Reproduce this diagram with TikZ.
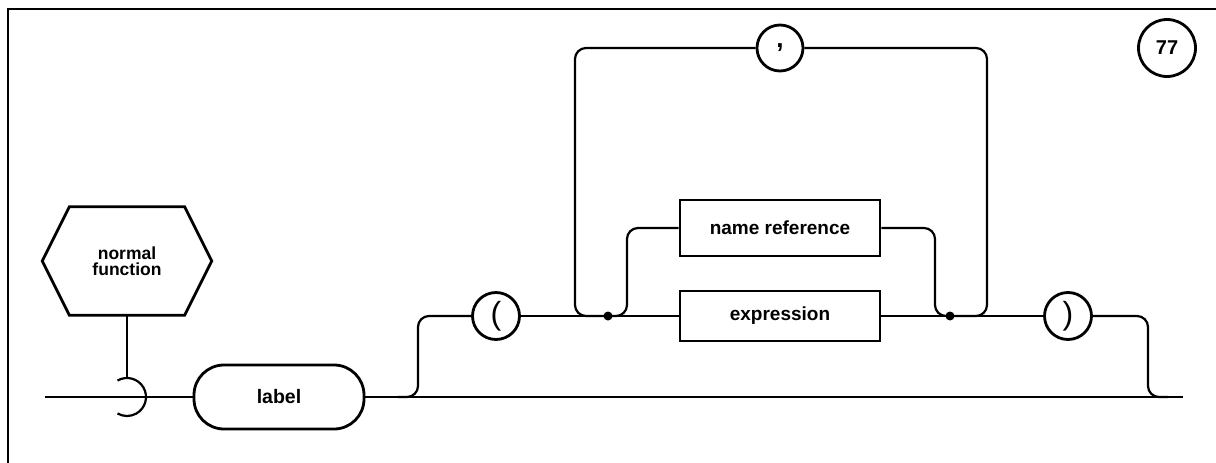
\documentclass[tikz,border=0pt]{standalone}
\usepackage{fontspec}
\setmainfont{Liberation Sans}
\begin{document}
\begin{tikzpicture}[x=1pt,y=-1pt,
  conn/.style={line width=2.2pt, rounded corners=11pt},
  boxstyle/.style={draw, line width=2.8pt, rectangle, minimum width=200pt, inner sep=0pt, font=\fontsize{19}{20}\selectfont\bfseries},
  termstyle/.style={draw, line width=2.8pt, circle, minimum size=47pt, inner sep=0pt, font=\fontsize{32}{34}\selectfont},
  dotstyle/.style={fill, circle, minimum size=9pt, inner sep=0pt}]
\useasboundingbox (0,0) rectangle (1216,463);
% frame
\draw[line width=2.2pt] (8,463) -- (8,9) -- (1216,9);
% hexagon
\node[minimum width=169pt, minimum height=108pt, inner sep=0pt, align=center,
      font=\fontsize{17.5}{16}\selectfont\bfseries] (hex) at (127,261) {normal\\function};
\draw[line width=2.8pt, line join=miter] (hex.west) -- ([xshift=27pt]hex.north west) -- ([xshift=-27pt]hex.north east)
  -- (hex.east) -- ([xshift=-27pt]hex.south east) -- ([xshift=27pt]hex.south west) -- cycle;
% label
\node[draw, line width=2.8pt, rectangle, rounded corners=30pt, minimum width=170pt, minimum height=64pt,
      font=\fontsize{19.5}{20}\selectfont\bfseries] (lab) at (279,397) {label};
% boxes
\node[boxstyle, minimum height=56pt] (nr) at (780,228) {name reference};
\node[boxstyle, minimum height=50pt] (ex) at (780,316) {expression};
% terminals
\node[termstyle] (lp) at (496,316) {(};
\node[termstyle, minimum size=46pt, font=\fontsize{26}{28}\selectfont\bfseries] (cm) at (780,48) {,};
\node[termstyle] (rp) at (1068,316) {)};
\node[draw, line width=2.8pt, circle, minimum size=57pt, inner sep=0pt,
      font=\fontsize{20}{20}\selectfont\bfseries] (num) at (1167,48) {77};
% coordinates
\coordinate (start) at (45,397);
\coordinate (finish) at (1183,397);
\coordinate (semi) at (127,397);
\node[dotstyle] (dl) at (608,316) {};
\node[dotstyle] (dr) at (950,316) {};
% main line
\draw[conn] (start) -- (lab.west);
\draw[conn] (lab.east) -- (finish);
% normal function connector and hook
\draw[line width=2.2pt] (hex.south) -- ([yshift=19pt]semi);
\draw[line width=2.2pt] ([shift={(120:19pt)}]semi) arc[start angle=120, end angle=-120, radius=19pt];
% upper branch
\draw[conn] (398,397) -- (418,397) -- (418,316) -- (lp.west);
\draw[conn] (lp.east) -- (ex.west);
\draw[conn] (ex.east) -- (rp.west);
\draw[conn] (rp.east) -- (1148,316) -- (1148,397) -- (1168,397);
% repetition loop
\draw[conn] (dl.center) -- (575,316) -- (575,48) -- (cm.west);
\draw[conn] (cm.east) -- (987,48) -- (987,316) -- (dr.center);
% name reference alternative
\draw[conn] (dl.center) -- (627,316) -- (627,228) -- (nr.west);
\draw[conn] (nr.east) -- (935,228) -- (935,316) -- (dr.center);
\end{tikzpicture}
\end{document}
